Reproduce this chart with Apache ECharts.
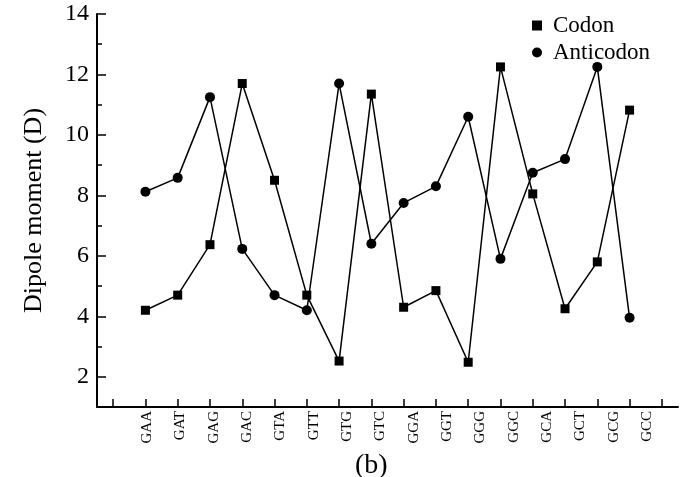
<!DOCTYPE html>
<html>
<head>
<meta charset="utf-8">
<script src="https://cdn.jsdelivr.net/npm/echarts@6/dist/echarts.min.js"></script>
<style>
html,body{margin:0;padding:0;background:#fff;}
#chart{width:685px;height:477px;}
</style>
</head>
<body>
<div id="chart"></div>
<script>
// ---- data ----
const categories = ['GAA','GAT','GAG','GAC','GTA','GTT','GTG','GTC','GGA','GGT','GGG','GGC','GCA','GCT','GCG','GCC'];
const codon      = [4.2, 4.7, 6.37, 11.7, 8.5, 4.7, 2.52, 11.35, 4.3, 4.85, 2.48, 12.25, 8.05, 4.25, 5.8, 10.82];
const anticodon  = [8.12, 8.58, 11.25, 6.23, 4.7, 4.2, 11.7, 6.4, 7.75, 8.3, 10.6, 5.9, 8.75, 9.2, 12.25, 3.95];
const yTickLabels = [2, 4, 6, 8, 10, 12, 14];
const yMinorTicks = [3, 5, 7, 9, 11, 13];
const seriesNames = ['Codon', 'Anticodon'];
const yName = 'Dipole moment (D)';
const panelLabel = '(b)';

// ---- layout helpers (half-step units on the x axis) ----
const FONT = "'Liberation Serif','Times New Roman',serif";
const xPos = i => 2 * i + 3;                 // category i sits on tick i+1
const xTickVals = [];
for (let k = 0; k <= 17; k++) xTickVals.push(2 * k + 1);
const LABEL_START = 3.1, LABEL_STEP = 2.065; // slight label drift as in original
const xLabelVals = categories.map((c, i) => LABEL_START + LABEL_STEP * i);
const labelFor = v => {
  const i = Math.round((v - LABEL_START) / LABEL_STEP);
  return (i >= 0 && i < categories.length) ? categories[i] : '';
};

const chart = echarts.init(document.getElementById('chart'), null, {renderer: 'canvas'});
chart.setOption({
  animation: false,
  backgroundColor: '#fff',
  grid: {left: 97, right: 7, top: 14, bottom: 70, containLabel: false},
  legend: {
    orient: 'vertical',
    left: 527, top: 9,
    itemWidth: 10, itemHeight: 10,
    itemGap: 4,
    textStyle: {fontFamily: FONT, fontSize: 23, color: '#000', padding: [0, 0, 0, 6]},
    data: [{name: seriesNames[0], icon: 'rect'}, {name: seriesNames[1], icon: 'circle'}]
  },
  xAxis: {
    type: 'value', min: 0, max: 36,
    splitLine: {show: false},
    axisLine: {show: true, onZero: false, lineStyle: {color: '#000', width: 2}},
    axisTick: {show: true, inside: true, length: 8, customValues: xTickVals, lineStyle: {color: '#000', width: 1.5}},
    axisLabel: {
      show: true, rotate: 90, margin: 4, customValues: xLabelVals,
      hideOverlap: false, showMinLabel: true, showMaxLabel: true,
      fontFamily: FONT, fontSize: 15, color: '#000',
      formatter: v => labelFor(v)
    }
  },
  yAxis: [{
    type: 'value', min: 1, max: 14,
    name: yName, nameLocation: 'middle', nameGap: 50,
    nameTextStyle: {fontFamily: FONT, fontSize: 26, color: '#000'},
    splitLine: {show: false},
    axisLine: {show: true, onZero: false, lineStyle: {color: '#000', width: 2}},
    axisTick: {show: true, inside: true, length: 9, customValues: yTickLabels, lineStyle: {color: '#000', width: 1.5}},
    axisLabel: {show: true, margin: 8, customValues: yTickLabels, fontFamily: FONT, fontSize: 24, color: '#000'}
  }, {
    type: 'value', min: 1, max: 14, position: 'left', offset: 0,
    splitLine: {show: false},
    axisLine: {show: false},
    axisTick: {show: true, inside: true, length: 5, customValues: yMinorTicks, lineStyle: {color: '#000', width: 1.5}},
    axisLabel: {show: false}
  }],
  series: [{
    name: seriesNames[0], type: 'line', yAxisIndex: 0,
    data: codon.map((v, i) => [xPos(i), v]),
    symbol: 'rect', symbolSize: 9,
    itemStyle: {color: '#000'},
    lineStyle: {color: '#000', width: 1.5}
  }, {
    name: seriesNames[1], type: 'line', yAxisIndex: 0,
    data: anticodon.map((v, i) => [xPos(i), v]),
    symbol: 'circle', symbolSize: 10,
    itemStyle: {color: '#000'},
    lineStyle: {color: '#000', width: 1.5}
  }],
  graphic: [{
    type: 'text', left: 355, top: 452,
    style: {text: panelLabel, font: '28px ' + FONT, fill: '#000'}
  }]
});
</script>
</body>
</html>
